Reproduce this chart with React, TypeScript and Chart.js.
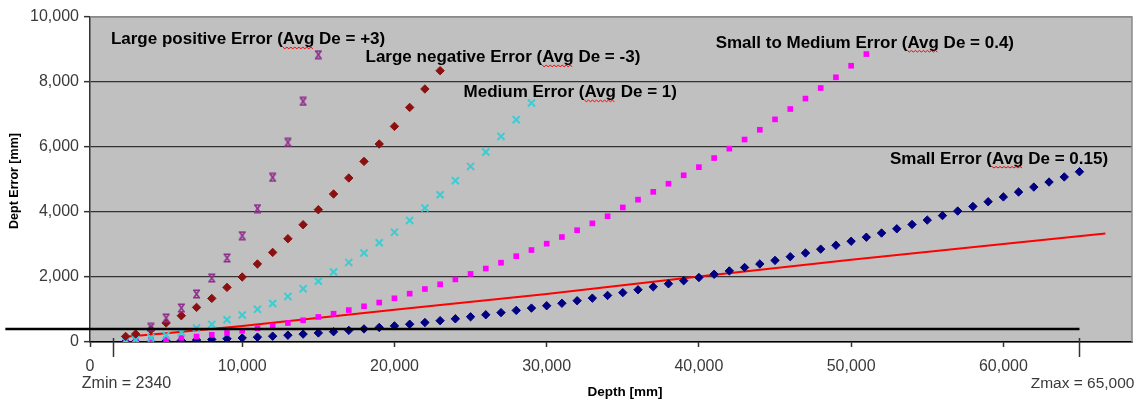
import React, { useEffect, useRef } from 'react';
import { Chart, registerables } from 'chart.js';

Chart.register(...registerables);

// ---------- data ----------
const depths = [
  2340, 3000, 4000, 5000, 6000, 7000, 8000, 9000, 10000, 11000, 12000, 13000, 14000, 15000, 16000,
  17000, 18000, 19000, 20000, 21000, 22000, 23000, 24000, 25000, 26000, 27000, 28000, 29000, 30000,
  31000, 32000, 33000, 34000, 35000, 36000, 37000, 38000, 39000, 40000, 41000, 42000, 43000, 44000,
  45000, 46000, 47000, 48000, 49000, 50000, 51000, 52000, 53000, 54000, 55000, 56000, 57000, 58000,
  59000, 60000, 61000, 62000, 63000, 64000, 65000,
];

const smallError = [
  10, 11, 20, 31, 45, 61, 79, 100, 124, 150, 179, 210, 243, 279, 317, 358, 402, 448, 496, 547, 600,
  656, 714, 775, 838, 904, 972, 1043, 1116, 1192, 1270, 1350, 1433, 1519, 1607, 1698, 1791, 1886,
  1984, 2084, 2187, 2293, 2401, 2511, 2624, 2739, 2857, 2977, 3100, 3225, 3353, 3483, 3616, 3751,
  3889, 4029, 4171, 4316, 4464, 4614, 4767, 4922, 5079, 5239,
];

const smallMediumError = [
  25, 35, 55, 88, 125, 168, 220, 278, 345, 420, 500, 585, 668, 770, 870, 982, 1098, 1215, 1345,
  1488, 1630, 1775, 1925, 2095, 2260, 2440, 2640, 2830, 3025, 3230, 3440, 3650, 3870, 4140, 4380,
  4620, 4870, 5130, 5380, 5660, 5950, 6230, 6530, 6850, 7170, 7490, 7815, 8145, 8500, 8860,
];

const mediumError = [
  45, 75, 130, 205, 295, 431, 540, 686, 830, 1005, 1185, 1403, 1640, 1870, 2154, 2449, 2738, 3055,
  3380, 3742, 4123, 4532, 4963, 5403, 5846, 6326, 6840, 7354,
];

const largeNegError = [
  172, 246, 378, 585, 809, 1065, 1341, 1680, 2000, 2400, 2757, 3178, 3609, 4071, 4554, 5046, 5557,
  6092, 6634, 7218, 7785, 8348,
];

const largePosDepths = [4000, 5000, 6000, 7000, 8000, 9000, 10000, 11000, 12000, 13000, 14000, 15000];
const largePosError = [449, 738, 1046, 1477, 1969, 2585, 3271, 4102, 5065, 6142, 7403, 8840];

const trendDepths = [2340, 5000, 10000, 20000, 30000, 40000, 50000, 60000, 66700];
const trendError = [160, 270, 495, 995, 1480, 2015, 2530, 3015, 3335];

const thresholdDepths = [-5560, 65000];
const thresholdError = [400, 400];

const zMarkerDepths = [1500, 65000];
const zLabels = ['Zmin = 2340', 'Zmax = 65,000'];

const xTickValues = [0, 10000, 20000, 30000, 40000, 50000, 60000];
const yTickValues = [0, 2000, 4000, 6000, 8000, 10000];

const seriesTexts = [
  'Large positive Error (Avg De = +3)',
  'Large negative Error (Avg De = -3)',
  'Medium Error (Avg De = 1)',
  'Small to Medium Error (Avg De = 0.4)',
  'Small Error (Avg De = 0.15)',
];
// anchor (left, middle) of each text, in data units
const seriesTextX = [1374, 18100, 24540, 41100, 52550];
const seriesTextY = [9302, 8748, 7671, 9200, 5631];

const xTitle = 'Depth [mm]';
const yTitle = 'Dept Error [mm]';

// ---------- helpers ----------
const zip = (xs: number[], ys: number[]) => ys.map((y, i) => ({ x: xs[i], y }));

function makeHourglass(color: string): HTMLCanvasElement {
  const c = document.createElement('canvas');
  c.width = 9;
  c.height = 10;
  const g = c.getContext('2d')!;
  g.strokeStyle = color;
  g.lineWidth = 1.6;
  g.beginPath();
  g.moveTo(1, 1.2);
  g.lineTo(8, 1.2);
  g.moveTo(1, 8.8);
  g.lineTo(8, 8.8);
  g.moveTo(2, 1.5);
  g.lineTo(7, 8.5);
  g.moveTo(7, 1.5);
  g.lineTo(2, 8.5);
  g.stroke();
  return c;
}

const decorPlugin = {
  id: 'decor',
  beforeDraw(chart: any) {
    const { ctx, chartArea: a } = chart;
    ctx.save();
    ctx.fillStyle = '#FFFFFF';
    ctx.fillRect(0, 0, chart.width, chart.height);
    ctx.fillStyle = '#C0C0C0';
    ctx.fillRect(a.left, a.top, a.right - a.left, a.bottom - a.top);
    ctx.restore();
  },
  beforeDatasetsDraw(chart: any) {
    const { ctx, chartArea: a } = chart;
    ctx.save();
    ctx.strokeStyle = '#8A8A8A';
    ctx.lineWidth = 1.5;
    ctx.beginPath();
    ctx.moveTo(a.left, a.top);
    ctx.lineTo(a.right, a.top);
    ctx.lineTo(a.right, a.bottom);
    ctx.stroke();
    ctx.restore();
  },
  afterDraw(chart: any) {
    const { ctx, chartArea: a } = chart;
    const xs = chart.scales.x;
    const ys = chart.scales.y;
    ctx.save();

    // Zmin / Zmax marker lines under the axis
    ctx.strokeStyle = '#333';
    ctx.lineWidth = 1.5;
    zMarkerDepths.forEach((d) => {
      const px = Math.round(xs.getPixelForValue(d)) + 0.5;
      ctx.beginPath();
      ctx.moveTo(px, a.bottom - 4);
      ctx.lineTo(px, a.bottom + 15);
      ctx.stroke();
    });

    // Zmin / Zmax labels
    ctx.fillStyle = '#3a3a3a';
    ctx.textBaseline = 'middle';
    ctx.font = '16px "Liberation Sans", Arial, sans-serif';
    ctx.textAlign = 'left';
    ctx.fillText(zLabels[0], xs.getPixelForValue(zMarkerDepths[0]) - 31, 384);
    ctx.font = '15.5px "Liberation Sans", Arial, sans-serif';
    ctx.textAlign = 'right';
    ctx.fillText(zLabels[1], xs.getPixelForValue(zMarkerDepths[1]) + 55, 384);

    // axis titles
    ctx.fillStyle = '#000';
    ctx.font = 'bold 13.5px "Liberation Sans", Arial, sans-serif';
    ctx.textAlign = 'center';
    ctx.fillText(xTitle, 625, 392);
    ctx.save();
    ctx.translate(15, 181);
    ctx.rotate(-Math.PI / 2);
    ctx.font = 'bold 12.5px "Liberation Sans", Arial, sans-serif';
    ctx.fillText(yTitle, 0, 0);
    ctx.restore();

    // series texts with squiggly underline under "Avg"
    ctx.font = 'bold 17px "Liberation Sans", Arial, sans-serif';
    ctx.textAlign = 'left';
    ctx.textBaseline = 'middle';
    seriesTexts.forEach((t, i) => {
      const px = xs.getPixelForValue(seriesTextX[i]);
      const py = ys.getPixelForValue(seriesTextY[i]);
      ctx.fillStyle = '#000';
      ctx.fillText(t, px, py);
      const idx = t.indexOf('Avg');
      const x0 = px + ctx.measureText(t.slice(0, idx)).width;
      const w = ctx.measureText('Avg').width;
      ctx.strokeStyle = '#FF0000';
      ctx.lineWidth = 1;
      ctx.beginPath();
      let up = true;
      for (let x = x0; x <= x0 + w; x += 2) {
        const yy = py + (up ? 7.5 : 9);
        if (x === x0) ctx.moveTo(x, yy);
        else ctx.lineTo(x, yy);
        up = !up;
      }
      ctx.stroke();
    });

    ctx.restore();
  },
};

export default function App() {
  const ref = useRef<HTMLCanvasElement | null>(null);

  useEffect(() => {
    if (!ref.current) return;
    const hourglass = makeHourglass('#8E2C8E');
    const tickFont = { family: '"Liberation Sans", Arial, sans-serif', size: 16 };

    const chart = new Chart(ref.current, {
      type: 'scatter',
      data: {
        datasets: [
          {
            label: 'threshold',
            data: zip(thresholdDepths, thresholdError),
            showLine: true,
            borderColor: '#000000',
            borderWidth: 2.5,
            pointRadius: 0,
            clip: false,
          } as any,
          {
            label: 'Large positive',
            data: zip(largePosDepths, largePosError),
            pointStyle: hourglass,
            pointRadius: 5,
            showLine: false,
          },
          {
            label: 'Large negative',
            data: zip(depths, largeNegError),
            pointStyle: 'rectRot',
            pointRadius: 4.2,
            pointBackgroundColor: '#8B1010',
            pointBorderColor: '#8B1010',
            pointBorderWidth: 1,
            showLine: false,
          },
          {
            label: 'Medium',
            data: zip(depths, mediumError),
            pointStyle: 'crossRot',
            pointRadius: 5,
            pointBorderColor: '#3CCCD2',
            pointBorderWidth: 2,
            showLine: false,
          },
          {
            label: 'Small to Medium',
            data: zip(depths, smallMediumError),
            pointStyle: 'rect',
            pointRadius: 4,
            pointBackgroundColor: '#FF00FF',
            pointBorderColor: '#FF00FF',
            pointBorderWidth: 0,
            showLine: false,
          },
          {
            label: 'Small',
            data: zip(depths, smallError),
            pointStyle: 'rectRot',
            pointRadius: 4.2,
            pointBackgroundColor: '#000080',
            pointBorderColor: '#000080',
            pointBorderWidth: 1,
            showLine: false,
          },
          {
            label: 'trend',
            data: zip(trendDepths, trendError),
            showLine: true,
            borderColor: '#FF0000',
            borderWidth: 2,
            pointRadius: 0,
            tension: 0,
          },
        ],
      },
      options: {
        animation: false,
        responsive: false,
        events: [],
        layout: { padding: { top: 17, right: 3, left: 0, bottom: 0 } },
        plugins: {
          legend: { display: false },
          tooltip: { enabled: false },
          title: { display: false },
        },
        scales: {
          x: {
            type: 'linear',
            min: 0,
            max: 68450,
            afterBuildTicks: (s: any) => {
              s.ticks = xTickValues.map((v) => ({ value: v }));
            },
            afterFit: (s: any) => {
              s.height = 58;
            },
            grid: {
              drawOnChartArea: false,
              drawTicks: true,
              tickLength: 5,
              tickColor: '#333',
              tickWidth: 1.5,
            },
            border: { color: '#000', width: 1.5 },
            ticks: {
              font: tickFont,
              color: '#3a3a3a',
              padding: 10,
              maxRotation: 0,
              autoSkip: false,
              callback: (v: any) => Number(v).toLocaleString('en-US'),
            },
          },
          y: {
            type: 'linear',
            min: 0,
            max: 10000,
            afterBuildTicks: (s: any) => {
              s.ticks = yTickValues.map((v) => ({ value: v }));
            },
            afterFit: (s: any) => {
              s.width = 90;
            },
            grid: {
              color: (c: any) => (c.tick && c.tick.value === 10000 ? '#8A8A8A' : '#333333'),
              lineWidth: 1.3,
              drawTicks: true,
              tickLength: 6,
              tickColor: '#333',
              tickWidth: 1.5,
            },
            border: { color: '#333', width: 1.5 },
            ticks: {
              font: tickFont,
              color: '#3a3a3a',
              padding: 5,
              autoSkip: false,
              callback: (v: any) => Number(v).toLocaleString('en-US'),
            },
          },
        },
      },
      plugins: [decorPlugin],
    });

    return () => chart.destroy();
  }, []);

  return (
    <div style={{ position: 'absolute', left: 0, top: 0, width: 1139, height: 400, overflow: 'hidden' }}>
      <canvas ref={ref} width={1139} height={400} style={{ display: 'block', width: 1139, height: 400 }} />
    </div>
  );
}
